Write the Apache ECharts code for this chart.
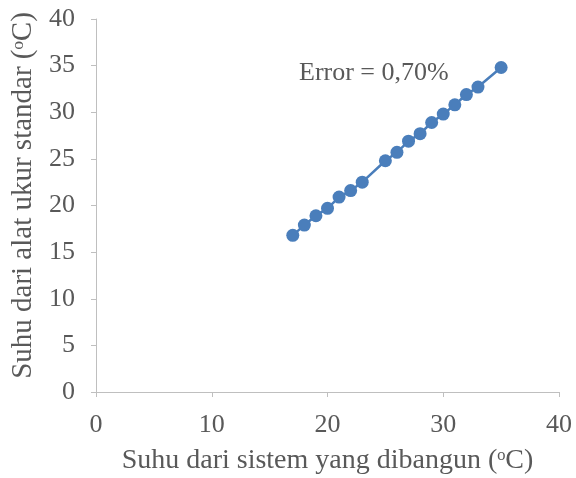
<!DOCTYPE html>
<html>
<head>
<meta charset="utf-8">
<script src="https://cdn.jsdelivr.net/npm/echarts@6/dist/echarts.min.js"></script>
<style>
  html, body { margin: 0; padding: 0; background: #fff; }
  #chart { width: 576px; height: 478px; }
</style>
</head>
<body>
<div id="chart"></div>
<script>
// suhu dari sistem (x) vs suhu alat ukur standar (y)
var suhuSistem = [17, 18, 19, 20, 21, 22, 23, 25, 26, 27, 28, 29, 30, 31, 32, 33, 35];
var suhuStandar = [16.8, 17.9, 18.9, 19.7, 20.9, 21.6, 22.5, 24.8, 25.7, 26.9, 27.7, 28.9, 29.8, 30.8, 31.9, 32.7, 34.8];
var xTicks = [0, 10, 20, 30, 40];
var yTicks = [0, 5, 10, 15, 20, 25, 30, 35, 40];
var errorLabel = 'Error = 0,70%';

var font = '"Liberation Serif", "DejaVu Serif", serif';
var textColor = '#595959';
var axisColor = '#bfbfbf';

var chart = echarts.init(document.getElementById('chart'));

var points = suhuSistem.map(function (x, i) { return [x, suhuStandar[i]]; });

chart.setOption({
    animation: false,
    textStyle: { fontFamily: font },
    title: {
        text: errorLabel,
        left: 299,
        top: 60,
        padding: 0,
        textStyle: {
            fontFamily: font,
            fontSize: 26,
            fontWeight: 'normal',
            color: textColor
        }
    },
    grid: {
        left: 96,
        right: 17,
        top: 19,
        bottom: 86,
        outerBoundsMode: 'none'
    },
    xAxis: {
        type: 'value',
        min: xTicks[0],
        max: xTicks[xTicks.length - 1],
        interval: 10,
        name: 'Suhu dari sistem yang dibangun (\u1d52C)',
        nameLocation: 'middle',
        nameGap: 55,
        nameTextStyle: { fontFamily: font, fontSize: 28, color: textColor },
        axisLine: { show: true, onZero: false, lineStyle: { color: axisColor, width: 1 } },
        axisTick: { show: true, inside: false, length: 5, lineStyle: { color: axisColor } },
        axisLabel: { margin: 20, fontFamily: font, fontSize: 26, color: textColor },
        splitLine: { show: false }
    },
    yAxis: {
        type: 'value',
        min: yTicks[0],
        max: yTicks[yTicks.length - 1],
        interval: 5,
        name: 'Suhu dari alat ukur standar (\u1d52C)',
        nameLocation: 'middle',
        nameGap: 55,
        nameTextStyle: { fontFamily: font, fontSize: 29, color: textColor, padding: [0, 0, 0, 20] },
        axisLine: { show: true, onZero: false, lineStyle: { color: axisColor, width: 1 } },
        axisTick: { show: true, inside: false, length: 5, lineStyle: { color: axisColor } },
        axisLabel: { margin: 21, fontFamily: font, fontSize: 26, color: textColor },
        splitLine: { show: false }
    },
    series: [{
        type: 'line',
        data: points,
        symbol: 'circle',
        symbolSize: 13,
        itemStyle: { color: '#4a7ebb' },
        lineStyle: { color: '#4a7ebb', width: 2.5 }
    }]
});
</script>
</body>
</html>
